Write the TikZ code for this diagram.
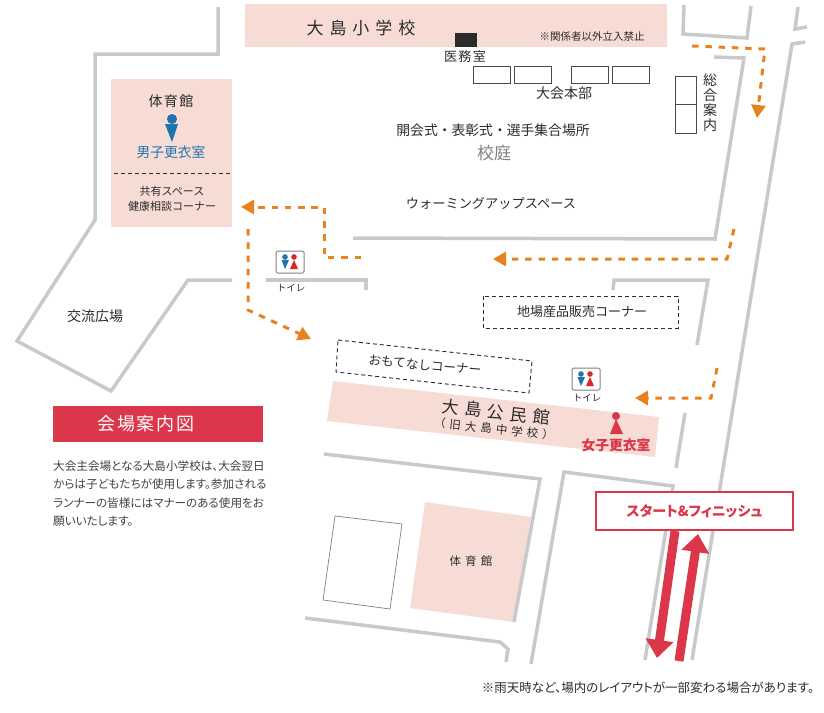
\documentclass[tikz,border=0pt]{standalone}
\usepackage{fontspec}
\setmainfont{Noto Sans CJK JP}
\newfontfamily\cjkprop[RawFeature=+palt]{Noto Sans CJK JP}
\newfontfamily\cjkwide[LetterSpace=35]{Noto Sans CJK JP}
\newfontfamily\cjksemi[LetterSpace=10]{Noto Sans CJK JP}
\usetikzlibrary{arrows.meta}
\definecolor{wallgray}{HTML}{C8C9C9}
\definecolor{pinkarea}{HTML}{F7DCD6}
\definecolor{routeorange}{HTML}{E8821E}
\definecolor{mapred}{HTML}{DC364A}
\definecolor{wcred}{HTML}{D42A2A}
\definecolor{manblue}{HTML}{1F74AE}
\definecolor{inkdark}{HTML}{2B2B2B}
\newcommand{\sz}[1]{\fontsize{#1}{#1}\selectfont}
\tikzset{
	wall/.style={draw=wallgray,line width=3.5pt},
	area/.style={fill=pinkarea},
	tent/.style={draw=inkdark!85,line width=0.9pt},
	corner/.style={draw=inkdark,line width=0.9pt,dash pattern=on 4pt off 3pt},
	route/.style={draw=routeorange,line width=3pt,dash pattern=on 6.5pt off 6.8pt,-{Triangle[length=13pt,width=14pt]}},
	runway/.style={draw=mapred,line width=9pt,-{Triangle[length=18pt,width=27pt]}},
	lbl/.style={inner sep=0pt,text=inkdark}
}
\begin{document}
\begin{tikzpicture}[x=1pt,y=-1pt]
	\useasboundingbox (0,0) rectangle (824,712);
	% buildings
	\fill[area] (245,4) rectangle (667,47);
	\fill[area] (111,79) rectangle (232,227);
	\fill[area] (333,381) -- (659,417) -- (655,457) -- (327,421) -- cycle;
	\fill[area] (425,502) -- (531,517) -- (514,622) -- (410,608) -- cycle;
	% walls
	\draw[wall] (218,7) -- (218,54) -- (95,54) -- (95,220) -- (17,341) -- (111,391) -- (188,280) -- (232,280);
	\draw[wall] (266,280) -- (366,280) -- (366,290);
	\draw[wall] (353,238) -- (715,239) -- (744,58) -- (714,57);
	\draw[wall] (684,5) -- (683,34) -- (747,38) -- (751,6);
	\draw[wall] (798,7) -- (795,29) -- (807,27);
	\draw[wall] (805,42) -- (792,44) -- (692,660);
	\draw[wall] (613,290) -- (614,280) -- (708,280) -- (697,345);
	\draw[wall] (685,413) -- (676,468);
	\draw[wall] (531,664) -- (564,472) -- (673,486) -- (645,660);
	\draw[wall] (324,454) -- (540,479) -- (514,622);
	\draw[wall] (305,618) -- (500,642) -- (508,649) -- (506,662);
	% tents
	\fill[inkdark] (455,33) rectangle (477,47);
	\draw[tent] (473,66) rectangle (510,83);
	\draw[tent] (514,66) rectangle (551,83);
	\draw[tent] (571,66) rectangle (608,83);
	\draw[tent] (612,66) rectangle (649,83);
	\draw[tent] (675,76) rectangle (696,133);
	\draw[tent] (675,104) -- (696,104);
	\draw[draw=gray,line width=0.7pt] (335,516) -- (402,524) -- (390,609) -- (323,600) -- cycle;
	% dashed corners
	\draw[corner] (483,296) rectangle (678,328);
	\draw[corner] (338,340) -- (532,361) -- (529,393) -- (336,372) -- cycle;
	\draw[corner] (114,173) -- (231,173);
	% school labels
	\node[lbl,font=\cjkwide\sz{17}] (school) at (361,28) {大島小学校};
	\node[lbl,font=\sz{10.5}] (notice) at (592,37) {※関係者以外立入禁止};
	\node[lbl,font=\cjksemi\sz{13}] (clinic) at (465,57) {医務室};
	\node[lbl,font=\sz{14}] (hq) at (564,93) {大会本部};
	\node[lbl,font=\sz{13.8}] (assembly) at (493,130) {開会式・表彰式・選手集合場所};
	\node[lbl,text=gray,font=\sz{17}] (yard) at (494,153) {校庭};
	\node[lbl,font=\sz{13.2}] (warmup) at (491,203) {ウォーミングアップスペース};
	\node[lbl,align=center,font=\fontsize{14}{15}\selectfont] (info) at (710,103) {総\\合\\案\\内};
	% gym
	\node[lbl,font=\cjksemi\sz{14}] (gym) at (171,101) {体育館};
	\fill[manblue] (172,119) circle[radius=5];
	\fill[manblue] (165,124) -- (178,124) -- (172,142) -- cycle;
	\node[lbl,text=manblue,font=\sz{13.8}] (menroom) at (171,152) {男子更衣室};
	\node[lbl,font=\sz{11}] (shared) at (172,191) {共有スペース};
	\node[lbl,font=\sz{11}] (health) at (172,206) {健康相談コーナー};
	\node[lbl,font=\sz{14}] (plaza) at (95,316) {交流広場};
	% toilets
	\draw[draw=gray,line width=1pt,rounded corners=1.5pt] (276,251) rectangle (304,273);
	\fill[manblue] (285,257) circle[radius=2.8];
	\fill[manblue] (281.5,260) -- (289,260) -- (285,269) -- cycle;
	\fill[wcred] (294,257) circle[radius=2.8];
	\fill[wcred] (294,260) -- (298,269) -- (290,269) -- cycle;
	\node[lbl,font=\sz{9.5}] (wca) at (291,288) {トイレ};
	\draw[draw=gray,line width=1pt,rounded corners=1.5pt] (572,368) rectangle (600,390);
	\fill[manblue] (581,374) circle[radius=2.8];
	\fill[manblue] (577.5,377) -- (585,377) -- (581,386) -- cycle;
	\fill[wcred] (590,374) circle[radius=2.8];
	\fill[wcred] (590,377) -- (594,386) -- (586,386) -- cycle;
	\node[lbl,font=\sz{9.5}] (wcb) at (587,398) {トイレ};
	% corners and hall
	\node[lbl,font=\sz{13}] (local) at (582,312) {地場産品販売コーナー};
	\node[lbl,rotate=-5,font=\sz{12.6}] (welcome) at (425,365) {おもてなしコーナー};
	\node[lbl,rotate=-6.3,font=\cjkwide\sz{17}] (hall) at (496,412) {大島公民館};
	\node[lbl,rotate=-6.3,font=\cjkwide\sz{11.5}] (oldname) at (494,429) {（旧大島中学校）};
	\fill[mapred] (616,416) circle[radius=4];
	\fill[mapred] (616,419) -- (623,434) -- (610,434) -- cycle;
	\node[lbl,text=mapred,font=\bfseries\sz{13.8}] (womenroom) at (616,445) {女子更衣室};
	\node[lbl,font=\cjkwide\sz{11.5}] (gymb) at (471,561) {体育館};
	% routes
	\coordinate (ra) at (692,46);
	\coordinate (rb) at (765,49);
	\coordinate (rc) at (757,118);
	\draw[route] (ra) -- (rb) -- (rc);
	\coordinate (sa) at (734,229);
	\coordinate (sb) at (727,259);
	\coordinate (sc) at (493,259);
	\draw[route] (sa) -- (sb) -- (sc);
	\coordinate (ta) at (361,257);
	\coordinate (tb) at (324,257);
	\coordinate (tc) at (324,207);
	\coordinate (td) at (241,207);
	\draw[route] (ta) -- (tb) -- (tc) -- (td);
	\coordinate (ua) at (248,229);
	\coordinate (ub) at (248,310);
	\coordinate (uc) at (311,339);
	\draw[route] (ua) -- (ub) -- (uc);
	\coordinate (va) at (717,368);
	\coordinate (vb) at (711,398);
	\coordinate (vc) at (635,398);
	\draw[route] (va) -- (vb) -- (vc);
	% start and finish
	\node[draw=mapred,fill=white,line width=2pt,minimum width=197pt,minimum height=38pt,inner sep=0pt,text=mapred,font=\cjkprop\bfseries\sz{14}] (start) at (694.5,511) {スタート\&フィニッシュ};
	\coordinate (downend) at (657,658);
	\coordinate (upbase) at (679,661);
	\coordinate (uptip) at (698,534);
	\draw[runway] (start.south -| 675,0) -- (downend);
	\draw[runway] (upbase) -- (uptip);
	% title and notes
	\node[fill=mapred,minimum width=210pt,minimum height=36pt,inner sep=0pt] (titlebar) at (158,424) {};
	\node[inner sep=0pt,text=white,font=\cjksemi\sz{18}] (title) at (146,424) {会場案内図};
	\node[lbl,anchor=north west,align=left,text=inkdark!90,font=\cjkprop\fontsize{11.6}{18.6}\selectfont] (para) at (53,460) {大会主会場となる大島小学校は、大会翌日\\からは子どもたちが使用します。参加される\\ランナーの皆様にはマナーのある使用をお\\願いいたします。};
	\node[lbl,font=\cjkprop\sz{12.5}] (rain) at (648,688) {※雨天時など、場内のレイアウトが一部変わる場合があります。};
\end{tikzpicture}
\end{document}
